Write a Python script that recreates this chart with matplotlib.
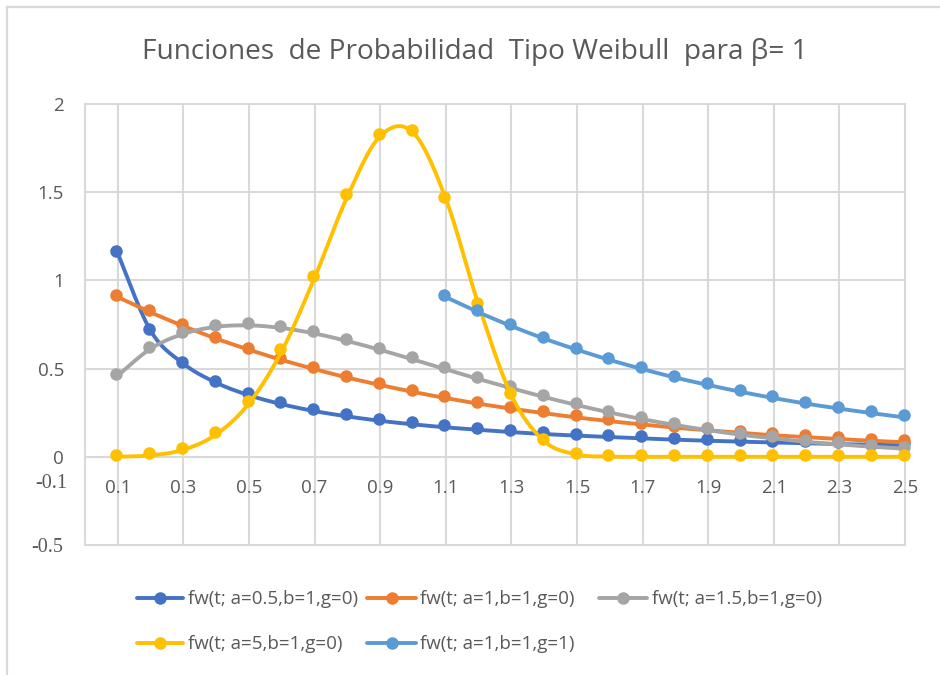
import numpy as np
import matplotlib
matplotlib.use("Agg")
import matplotlib.pyplot as plt
from matplotlib.lines import Line2D
from matplotlib.transforms import offset_copy

# ---------------- data ----------------
t = [0.1, 0.2, 0.3, 0.4, 0.5, 0.6, 0.7, 0.8, 0.9, 1.0, 1.1, 1.2, 1.3,
     1.4, 1.5, 1.6, 1.7, 1.8, 1.9, 2.0, 2.1, 2.2, 2.3, 2.4, 2.5]

fw_a05 = [1.153, 0.715, 0.528, 0.420, 0.349, 0.298, 0.259, 0.229, 0.204,
          0.184, 0.167, 0.153, 0.140, 0.129, 0.120, 0.112, 0.104, 0.097,
          0.091, 0.086, 0.081, 0.077, 0.072, 0.069, 0.065]
fw_a1 = [0.905, 0.819, 0.741, 0.670, 0.607, 0.549, 0.497, 0.449, 0.407,
         0.368, 0.333, 0.301, 0.273, 0.247, 0.223, 0.202, 0.183, 0.165,
         0.150, 0.135, 0.122, 0.111, 0.100, 0.091, 0.082]
fw_a15 = [0.460, 0.613, 0.697, 0.737, 0.745, 0.730, 0.699, 0.656, 0.606,
          0.552, 0.496, 0.441, 0.389, 0.339, 0.293, 0.251, 0.213, 0.180,
          0.151, 0.125, 0.104, 0.085, 0.070, 0.057, 0.046]
fw_a5 = [0.0005, 0.008, 0.040, 0.127, 0.303, 0.600, 1.015, 1.476, 1.818,
         1.839, 1.463, 0.861, 0.349, 0.089, 0.013, 0.001, 0.0, 0.0,
         0.0, 0.0, 0.0, 0.0, 0.0, 0.0, 0.0]
t_g1 = [1.1, 1.2, 1.3, 1.4, 1.5, 1.6, 1.7, 1.8, 1.9, 2.0, 2.1, 2.2, 2.3, 2.4, 2.5]
fw_g1 = [0.905, 0.819, 0.741, 0.670, 0.607, 0.549, 0.497, 0.449, 0.407,
         0.368, 0.333, 0.301, 0.273, 0.247, 0.223]

labels = ["fw(t; a=0.5,b=1,g=0)", "fw(t; a=1,b=1,g=0)", "fw(t; a=1.5,b=1,g=0)",
          "fw(t; a=5,b=1,g=0)", "fw(t; a=1,b=1,g=1)"]
colors = ["#4472C4", "#ED7D31", "#A5A5A5", "#FFC000", "#5B9BD5"]

x_tick_labels = ["0.1", "0.3", "0.5", "0.7", "0.9", "1.1", "1.3", "1.5", "1.7",
                 "1.9", "2.1", "2.3", "2.5"]
y_ticks = [0, 0.5, 1, 1.5, 2]
y_tick_labels = ["0", "0.5", "1", "1.5", "2"]
h_grid = [-0.5, 0, 0.5, 1, 1.5, 2]

title = "Funciones  de Probabilidad  Tipo Weibull  para β= 1"

# ---------------- helpers ----------------
def smooth(xs, ys, n=24):
    """Excel-like smoothed line (Catmull-Rom Bezier)."""
    x = np.asarray(xs, float)
    y = np.asarray(ys, float)
    P = np.column_stack([x, y])
    Pp = np.vstack([P[0], P, P[-1]])
    s = np.linspace(0, 1, n + 1)[1:][:, None]
    out = [P[0]]
    for i in range(len(P) - 1):
        p0, p1, p2, p3 = Pp[i], Pp[i + 1], Pp[i + 2], Pp[i + 3]
        c1 = p1 + (p2 - p0) / 6.0
        c2 = p2 - (p3 - p1) / 6.0
        b = ((1 - s) ** 3) * p1 + 3 * ((1 - s) ** 2) * s * c1 + 3 * (1 - s) * s ** 2 * c2 + s ** 3 * p2
        out.extend(b)
    out = np.array(out)
    return out[:, 0], out[:, 1]

TXT = "#595959"
GRID = "#D9D9D9"
FONT = "Open Sans"
plt.rcParams['font.family'] = [FONT, 'DejaVu Sans']

W, H = 940, 675
fig = plt.figure(figsize=(W / 100, H / 100), dpi=100)

# chart border (top and left only visible)
fig.add_artist(Line2D([7 / W, 1.0], [1 - 7 / H, 1 - 7 / H], color=GRID, lw=1.6))
fig.add_artist(Line2D([7 / W, 7 / W], [1 - 7 / H, 0.0], color=GRID, lw=1.6))

left, right, top, bottom = 85, 905, 104, 545
ax = fig.add_axes([left / W, 1 - bottom / H, (right - left) / W, (bottom - top) / H])
ax.set_xlim(0, 2.5)
ax.set_ylim(-0.5, 2)
for sp in ax.spines.values():
    sp.set_visible(False)
ax.set_xticks([])
ax.set_yticks(y_ticks)
ax.set_yticklabels(y_tick_labels, fontsize=13.5, color=TXT)
ax.tick_params(axis='y', length=0, pad=15)

# gridlines
for yv in h_grid:
    ax.axhline(yv, color=GRID, lw=1.5, zorder=1, clip_on=False)
ax.axvline(0, color=GRID, lw=1.5, zorder=1, clip_on=False)
for lab in x_tick_labels:
    ax.axvline(float(lab), color=GRID, lw=1.5, zorder=1, clip_on=False)

# x labels (placed between 0 and -0.5)
for lab in x_tick_labels:
    ax.text(float(lab), -0.177, lab, ha='center', va='center', fontsize=13.5, color=TXT)

# odd serif labels
fig.text(51 / W, 1 - 484 / H, "-0.1", ha='center', va='center', fontsize=14.5,
         color=TXT, family='Liberation Serif')
fig.text(47 / W, 1 - 547 / H, "-0.5", ha='center', va='center', fontsize=14.5,
         color=TXT, family='Liberation Serif')

# series
series = [(t, fw_a05), (t, fw_a1), (t, fw_a15), (t, fw_a5), (t_g1, fw_g1)]
mk_tr = offset_copy(ax.transData, fig=fig, x=-1.5, y=2.0, units='dots')
for k, ((xs, ys), c) in enumerate(zip(series, colors)):
    sx, sy = smooth(xs, ys)
    ax.plot(sx, sy, color=c, lw=2.8, solid_capstyle='round', zorder=3 + 2 * k, clip_on=False)
    ax.plot(xs, ys, 'o', color=c, ms=8, transform=mk_tr, zorder=4 + 2 * k, clip_on=False)

# title
fig.text(475 / W, 1 - 52 / H, title, ha='center', va='center', fontsize=20.2, color=TXT)

# legend (manual, Excel-like layout)
leg = [(137, 183, 598, 188, 0), (367, 416, 598, 420, 1), (599, 647, 598, 652, 2),
       (137, 183, 643, 188, 3), (367, 416, 643, 420, 4)]
for x0, x1, yy, xt, k in leg:
    fig.add_artist(Line2D([x0 / W, x1 / W], [1 - yy / H, 1 - yy / H], color=colors[k], lw=2.8,
                          solid_capstyle='round'))
    fig.add_artist(Line2D([(x0 + x1) / 2 / W], [1 - yy / H], color=colors[k], marker='o', ms=8))
    fig.text(xt / W, 1 - (yy + 1) / H, labels[k], ha='left', va='center', fontsize=13.5, color=TXT)

fig.savefig("out.png", dpi=100)
